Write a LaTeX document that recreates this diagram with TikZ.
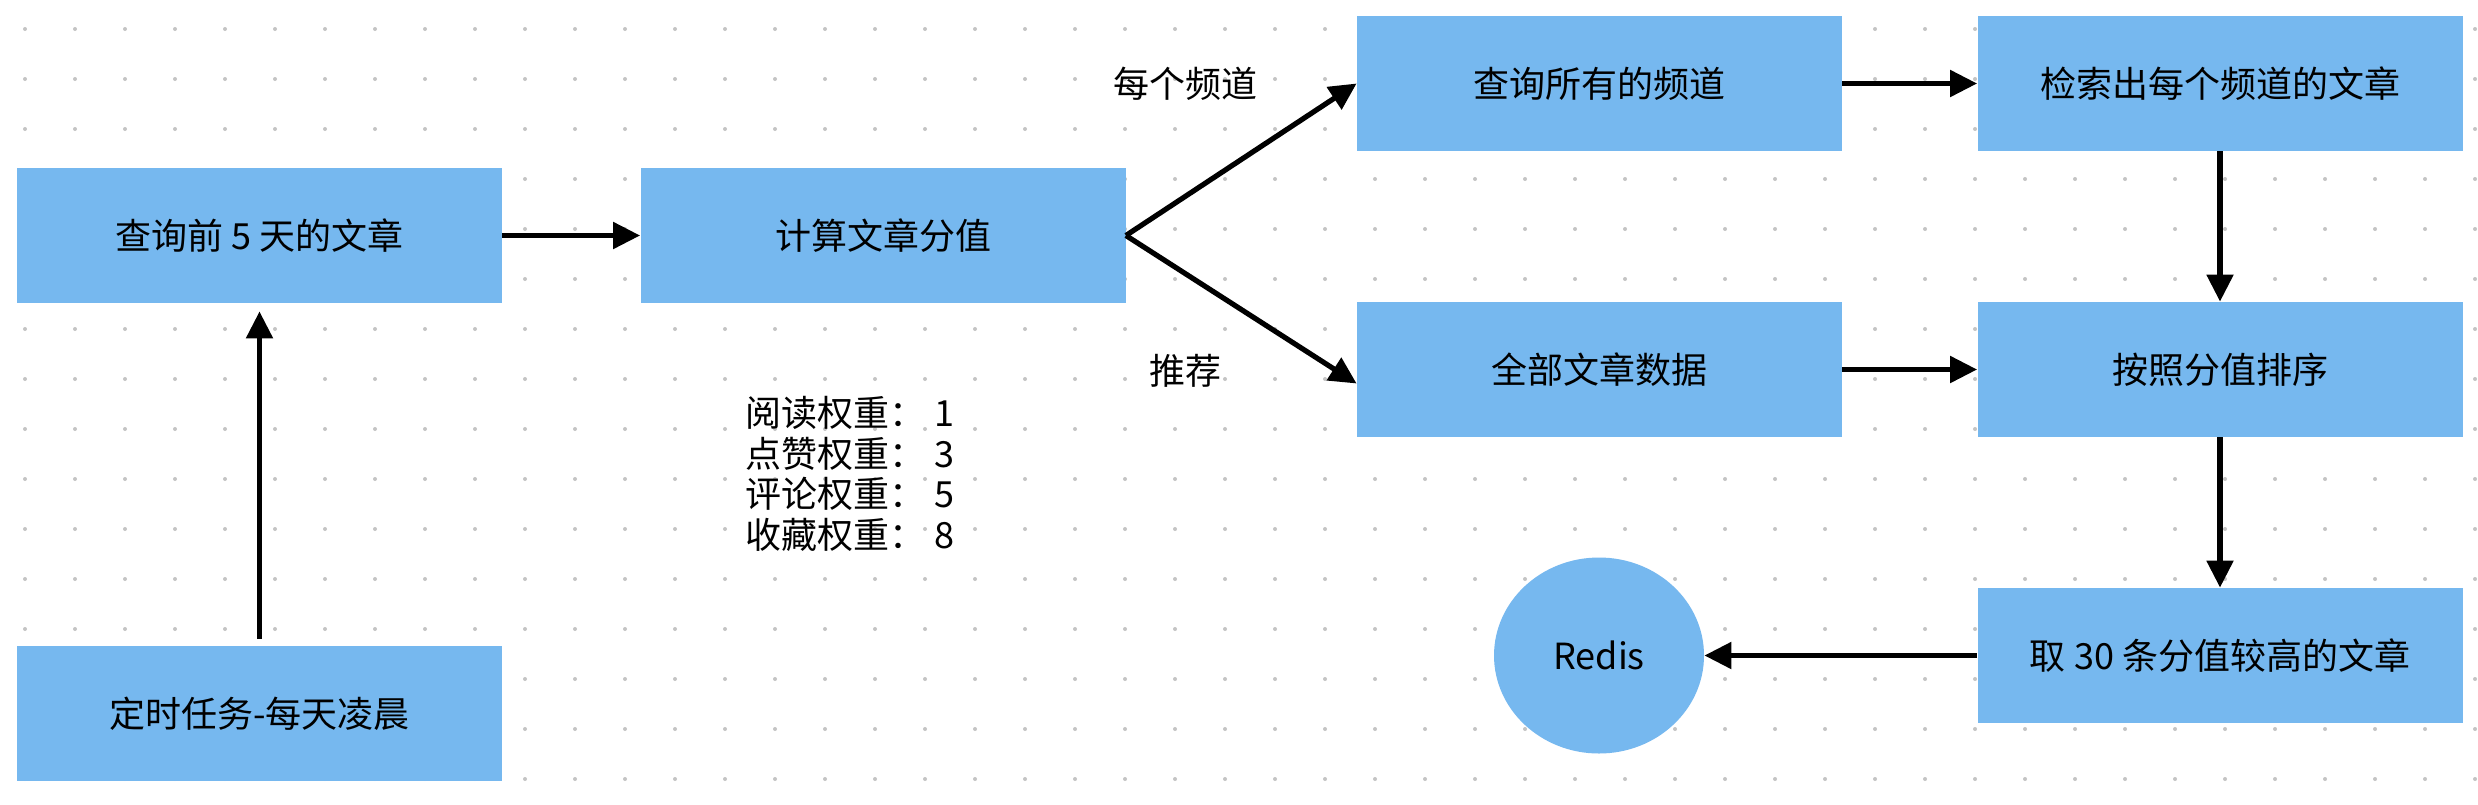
\documentclass[tikz,border=0pt]{standalone}
\usepackage{fontspec}
\setmainfont{Noto Sans CJK SC}
\usetikzlibrary{arrows.meta, shapes.geometric, calc}

\definecolor{boxblue}{HTML}{76B8EF}
\definecolor{griddot}{HTML}{C4C4C4}

\begin{document}
\begin{tikzpicture}[
        x=0.5pt,
        y=-0.5pt,
        font=\fontsize{18pt}{20.3pt}\selectfont,
        box/.style={
            fill=boxblue,
            rectangle,
            inner sep=0pt,
            minimum width=242.5pt,
            minimum height=67.5pt,
        },
        store/.style={
            fill=boxblue,
            ellipse,
            inner sep=0pt,
            minimum width=105pt,
            minimum height=98pt,
        },
        link/.style={
            line width=2.6pt,
            -{Triangle[length=13.5pt, width=13pt]},
        },
        griddot/.style={
            fill=griddot,
        },
    ]

    % Canvas.
    \fill[white] (0, 0) rectangle (2478, 804);
    \useasboundingbox (0, 0) rectangle (2478, 804);

    % Dotted background grid.
    \foreach \x in {25, 75, ..., 2475}
    \foreach \y in {29, 79, ..., 779}
    \fill[griddot] (\x, \y) circle[radius=1pt];

    % Boxes.
    \node[box] (query5) at (259.5, 235.5) {查询前 5 天的文章};
    \node[box] (score) at (883, 235.5) {计算文章分值};
    \node[box] (channels) at (1599.5, 83.5) {查询所有的频道};
    \node[box] (perchannel) at (2220, 83.5) {检索出每个频道的文章};
    \node[box] (alldata) at (1599.5, 369.5) {全部文章数据};
    \node[box] (sort) at (2220, 369.5) {按照分值排序};
    \node[box] (top30) at (2220, 655.5) {取 30 条分值较高的文章};
    \node[box] (cron) at (259.5, 713.5) {定时任务-每天凌晨};
    \node[store] (redis) at (1599, 655.5) {Redis};

    % Labels.
    \node (eachlabel) at (1185, 84) {每个频道};
    \node (reclabel) at (1185, 371) {推荐};
    \node[align=center] (weights) at (850, 474) {阅读权重： 1\\点赞权重： 3\\评论权重： 5\\收藏权重： 8};

    % Flow.
    \draw[link, shorten <=3.5pt, shorten >=4pt] (cron) -- (query5);
    \draw[link] (query5) -- (score);
    \draw[link] (score.east) -- (channels.west);
    \draw[link] (score.east) -- ($(alldata.west) + (0, 14)$);
    \draw[link] (channels) -- (perchannel);
    \draw[link] (alldata) -- (sort);
    \draw[link] (perchannel) -- (sort);
    \draw[link] (sort) -- (top30);
    \draw[link] (top30) -- (redis);
\end{tikzpicture}
\end{document}
